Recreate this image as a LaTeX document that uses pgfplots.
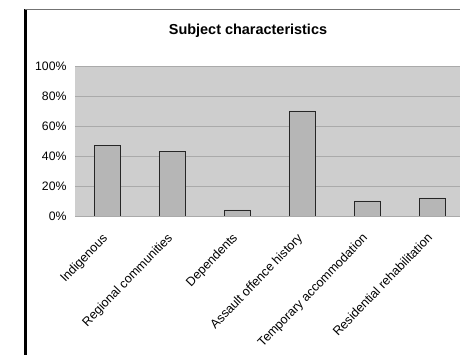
\documentclass[border=0pt]{standalone}
\usepackage{pgfplots}
\pgfplotsset{compat=1.18}
\usepackage{fontspec}
\setmainfont{Liberation Sans}
\definecolor{plotbg}{RGB}{206,206,206}
\definecolor{barfill}{RGB}{182,182,182}
\definecolor{gridc}{RGB}{170,170,170}
\begin{document}
\begin{tikzpicture}
\useasboundingbox (0,0) rectangle (460bp,355bp);
\clip (0,0) rectangle (460bp,355bp);
\fill[white] (0,0) rectangle (460bp,355bp);
\begin{axis}[
  at={(75bp,139bp)}, anchor=south west,
  scale only axis, width=390bp, height=150bp,
  xmin=-0.5, xmax=5.5, ymin=0, ymax=100,
  axis background/.style={fill=plotbg},
  axis line style={draw=none},
  ymajorgrids, grid style={gridc, line width=0.8bp},
  ytick={0,20,...,100},
  yticklabel={\pgfmathprintnumber{\tick}\%},
  xtick=data,
  xticklabels={Indigenous, Regional communities, Dependents, Assault offence history, Temporary accommodation, Residential rehabilitation},
  major tick length=0pt,
  ticklabel style={font=\fontsize{12.3}{14}\selectfont},
  /pgf/number format/assume math mode=true,
  x tick label style={font=\fontsize{12.6}{14}\selectfont, xshift=-6bp, yshift=-16bp, rotate=46, anchor=north east, inner sep=0pt},
  y tick label style={xshift=-5bp},
]
\addplot[ybar, bar width=26bp, fill=barfill, draw=black!85, line width=0.8bp]
  coordinates {(0,47) (1,43) (2,4) (3,70) (4,10) (5,12)};
\end{axis}
\node[font=\fontsize{14.5}{17}\selectfont\bfseries] at (248bp,324bp) {Subject characteristics};
\draw[black, line width=3bp] (25bp,0) -- (25bp,346bp);
\draw[black!55, line width=0.8bp] (25bp,346bp) -- (460bp,346bp);
\end{tikzpicture}
\end{document}
